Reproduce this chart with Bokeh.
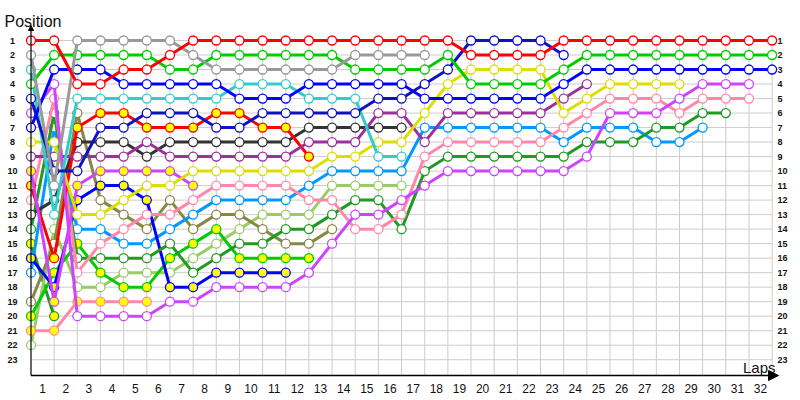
from bokeh.plotting import figure
from bokeh.models import Range1d, Arrow, NormalHead
from bokeh.embed import file_html
from bokeh.resources import INLINE
from bokeh.core.properties import value

# ---------------- data ----------------
LAPS = list(range(0, 33))
POSITIONS = list(range(1, 24))
lap_labels = [str(n) for n in range(1, 33)]
pos_labels = [str(n) for n in range(1, 24)]

# positions per lap, starting at lap 0 (grid)
red      = [1, 1, 4, 4, 3, 3, 2, 1, 1, 1, 1, 1, 1, 1, 1, 1, 1, 1, 1, 2, 2, 2, 2, 1, 1, 1, 1, 1, 1, 1, 1, 1, 1]
green    = [4, 2, 2, 2, 2, 2, 3, 3, 2, 2, 2, 2, 2, 2, 3, 3, 3, 3, 2, 4, 4, 4, 4, 3, 2, 2, 2, 2, 2, 2, 2, 2, 2]
blue     = [7, 3, 3, 3, 4, 4, 4, 4, 4, 5, 5, 5, 4, 4, 4, 4, 4, 5, 5, 5, 5, 5, 5, 4, 3, 3, 3, 3, 3, 3, 3, 3, 3]
navy     = [5, 10, 10, 7, 7, 6, 6, 6, 7, 7, 6, 6, 6, 6, 6, 5, 5, 4, 3, 1, 1, 1, 1, 2]
gray     = [2, 11, 1, 1, 1, 1, 1, 2, 3, 3, 3, 3, 3, 3, 2, 2, 2, 2]
cyan     = [3, 13, 5, 5, 5, 5, 5, 5, 5, 4, 4, 4, 5, 5, 5, 9, 9]
violet   = [6, 4, 20, 20, 20, 20, 19, 19, 18, 18, 18, 18, 17, 15, 13, 13, 12, 11, 10, 10, 10, 10, 10, 10, 9, 6, 6, 6, 5, 4, 4, 4]
yellow   = [8, 8, 13, 13, 12, 11, 11, 10, 10, 10, 10, 10, 10, 9, 9, 8, 8, 6, 4, 3, 3, 3, 3, 6, 5, 4, 4, 4, 4]
purple   = [9, 9, 9, 9, 9, 8, 9, 9, 9, 9, 9, 9, 8, 8, 8, 6, 6, 8, 6, 6, 6, 6, 6, 5, 4]
pink     = [12, 5, 17, 15, 14, 13, 13, 12, 11, 11, 11, 11, 12, 12, 14, 14, 13, 9, 8, 8, 8, 8, 8, 7, 6, 5, 5, 5, 6, 5, 5, 5]
darkgray = [13, 12, 8, 8, 8, 9, 8, 8, 8, 8, 8, 8, 7, 7, 7, 7, 7]
dkgreen  = [14, 6, 16, 16, 16, 16, 15, 17, 16, 15, 15, 14, 14, 13, 12, 12, 14, 10, 9, 9, 9, 9, 9, 9, 8, 8, 8, 7, 7, 6, 6]
ltblue   = [17, 7, 14, 14, 15, 15, 14, 13, 12, 12, 12, 12, 11, 10, 10, 10, 10, 7, 7, 7, 7, 7, 7, 8, 7, 7, 7, 8, 8, 7]
ltgreen  = [22, 14, 18, 18, 17, 17, 17, 16, 15, 14, 13, 13, 13, 11, 11, 11, 11]
olive    = [19, 15, 6, 12, 13, 14, 12, 14, 13, 13, 14, 15, 15, 14]
red_b    = [11, 16, 7, 6, 6, 7, 7, 7, 6, 6, 7, 7, 9]
blue_b   = [16, 18, 12, 11, 11, 12, 18, 18, 17, 17, 17, 17]
green_b  = [20, 17, 15, 17, 18, 18, 16, 15, 14, 16, 16, 16, 16]
violet_b = [10, 19, 11, 10, 10, 10, 10, 11]
pink_b   = [21, 21, 19, 19, 19, 19]
dkgreen_b = [15, 20]

# ---------------- styles ----------------
WHITE, YEL = "#FFFFFF", "#FFFF00"
series = [
    (dkgreen_b, "#229922", YEL), (ltgreen, "#99CC66", WHITE), (pink_b, "#FF88AA", YEL),
    (green_b, "#00CC00", YEL), (olive, "#888844", WHITE), (ltblue, "#0099FF", WHITE),
    (blue_b, "#0000FF", YEL), (dkgreen, "#229922", WHITE), (darkgray, "#333333", WHITE),
    (pink, "#FF88AA", WHITE), (red_b, "#FF0000", YEL), (violet_b, "#CC44FF", YEL),
    (purple, "#993399", WHITE), (yellow, "#DDDD00", WHITE), (violet, "#CC44FF", WHITE),
    (cyan, "#33CCCC", WHITE), (navy, "#1111C4", WHITE), (blue, "#0000FF", WHITE),
    (green, "#00CC00", WHITE), (gray, "#999999", WHITE), (red, "#FF0000", WHITE),
]

# ---------------- layout ----------------
W, H = 800, 400
PX_LAP, PX_POS = 23.16, 14.51
X0_PX, Y1_PX = 30.5, 40.0          # canvas px of lap 0 / position 1
x_lo = -X0_PX / PX_LAP
x_hi = x_lo + W / PX_LAP
y_top = 1 - Y1_PX / PX_POS
y_bot = y_top + H / PX_POS

def xpx(px):
    return x_lo + px / PX_LAP

def ypx(px):
    return y_top + px / PX_POS

axis_y = ypx(375)        # bottom axis line
axis_top = ypx(25)       # top of vertical axis
last_lap = LAPS[-1]

p = figure(width=W, height=H, x_range=Range1d(x_lo, x_hi), y_range=Range1d(y_bot, y_top),
           output_backend="svg", toolbar_location=None, x_axis_location=None,
           y_axis_location=None, min_border=0, outline_line_color=None,
           background_fill_color="white", border_fill_color="white")
p.grid.visible = False

# grid
vx = LAPS[1:]
p.segment(x0=vx, y0=[POSITIONS[0]] * len(vx), x1=vx, y1=[axis_y] * len(vx),
          line_color="#CCCCCC", line_width=1)
p.segment(x0=[LAPS[0]] * len(POSITIONS), y0=POSITIONS, x1=[last_lap] * len(POSITIONS), y1=POSITIONS,
          line_color="#CCCCCC", line_width=1)

# axes
p.add_layout(Arrow(end=NormalHead(size=5, fill_color="black", line_color="black"),
                   x_start=LAPS[0], y_start=axis_y, x_end=LAPS[0], y_end=axis_top,
                   line_color="black", line_width=1.2))
p.add_layout(Arrow(end=NormalHead(size=10, fill_color="black", line_color="black"),
                   x_start=LAPS[0], y_start=axis_y, x_end=xpx(778), y_end=axis_y,
                   line_color="black", line_width=1.5))

# series
for pos, col, fill in series:
    laps = LAPS[:len(pos)]
    p.line(laps, pos, line_color=col, line_width=3)
    p.scatter(laps, pos, size=9, marker="circle", fill_color=fill, line_color=col, line_width=1.3)

# tick labels
tick_font = value("Liberation Sans")
p.text(x=[xpx(12)] * len(POSITIONS), y=POSITIONS, text=pos_labels, text_align="center",
       text_baseline="middle", text_font=tick_font, text_font_size="9px",
       text_font_style="bold", text_color="#111111")
p.text(x=[xpx(777)] * len(POSITIONS), y=POSITIONS, text=pos_labels, text_align="left",
       text_baseline="middle", text_font=tick_font, text_font_size="9px",
       text_font_style="bold", text_color="#111111")
p.text(x=[n - 0.5 for n in LAPS[1:]], y=[ypx(388)] * len(lap_labels), text=lap_labels,
       text_align="center", text_baseline="middle", text_font=tick_font,
       text_font_size="12px", text_color="#111111")

# axis titles
p.text(x=[xpx(4)], y=[ypx(21)], text=["Position"], text_align="left", text_baseline="alphabetic",
       text_font=tick_font, text_font_size="16px", text_color="#111111")
p.text(x=[xpx(775)], y=[ypx(367)], text=["Laps"], text_align="right", text_baseline="alphabetic",
       text_font=tick_font, text_font_size="15px", text_color="#111111")

open("out.html", "w").write(file_html(p, INLINE))
